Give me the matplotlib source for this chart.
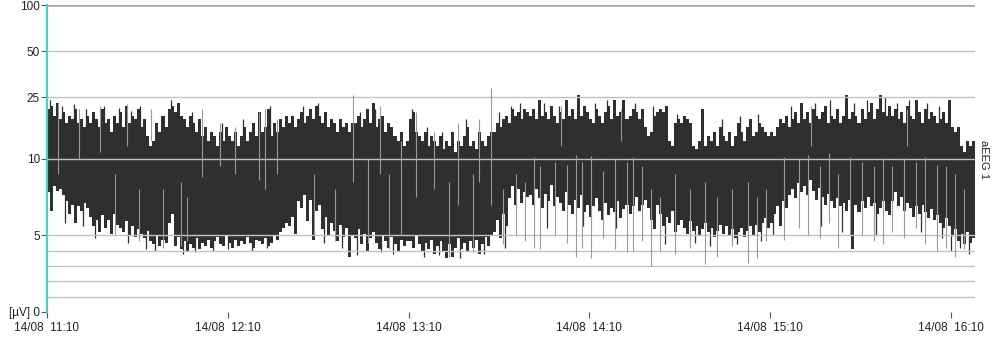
import numpy as np
import matplotlib
matplotlib.use('Agg')
import matplotlib.pyplot as plt

plt.rcParams['font.family'] = ['Liberation Sans', 'DejaVu Sans']

# aEEG envelope, one value per minute from 14/08 11:10 (µV)
upper = [
    21, 22, 19, 23, 18, 20, 17, 19, 18, 21, 17, 18, 16, 19, 17, 20, 18, 16, 21, 17,
    18, 15, 19, 17, 20, 16, 22, 17, 19, 18, 21, 16, 18, 14, 12, 13, 17, 15, 19, 16,
    21, 22, 20, 23, 19, 18, 16, 19, 17, 15, 18, 14, 16, 13, 15, 14, 12, 15, 13, 16,
    14, 13, 15, 12, 14, 16, 13, 15, 17, 14, 20, 15, 16, 21, 14, 17, 15, 18, 16, 19,
    17, 19, 16, 18, 20, 17, 19, 21, 18, 22, 19, 17, 20, 16, 18, 17, 15, 18, 16, 17,
    15, 17, 17, 19, 16, 18, 21, 17, 23, 16, 18, 19, 15, 17, 16, 14, 13, 15, 12, 13,
    18, 20, 15, 14, 13, 15, 12, 14, 13, 12, 14, 11.5, 13, 12, 15, 11, 13, 12, 14, 16,
    12, 13, 11.5, 15, 13, 12, 14, 15, 15, 17, 16, 18, 19, 17, 21, 19, 20, 18, 21, 20,
    19, 21, 18, 24, 19, 20, 18, 22, 19, 17, 20, 18, 24, 19, 21, 18, 26, 19, 22, 20,
    18, 17, 21, 19, 17, 20, 22, 18, 24, 19, 20, 24, 18, 19, 21, 20, 18, 21, 16, 14,
    15, 19, 20, 21, 20, 22, 13, 12, 17, 18, 17, 19, 18, 17, 12, 11.5, 13, 21, 12, 14,
    13, 15, 12, 16, 14, 13, 15, 12, 14, 17, 15, 13, 16, 18, 14, 15, 17, 16, 15, 14,
    15, 14, 16, 18, 17, 19, 16, 18, 20, 17, 23, 18, 20, 17, 21, 19, 18, 20, 22, 17,
    19, 18, 21, 17, 19, 26, 18, 20, 19, 17, 21, 18, 20, 23, 18, 21, 26, 20, 19, 22,
    19, 21, 18, 20, 17, 22, 19, 18, 24, 20, 17, 21, 18, 20, 19, 17, 18, 20, 17, 24,
    16, 15, 16, 12, 11, 13, 12, 13,
]
lower = [
    7.8, 6.6, 8.2, 7.9, 8.0, 7.6, 7.2, 6.4, 7.0, 5.8, 6.9, 6.6, 7.1, 6.8, 6.2, 5.6, 6.0, 5.2, 6.3, 5.5,
    6.0, 5.1, 6.4, 5.7, 5.5, 5.2, 5.9, 5.0, 5.6, 4.9, 5.4, 5.1, 4.8, 5.3, 4.6, 4.4, 5.0, 4.3, 4.7, 4.5,
    5.8, 6.4, 4.3, 4.9, 4.1, 4.6, 4.0, 4.4, 4.2, 4.8, 4.1, 4.5, 4.3, 4.7, 4.2, 4.6, 4.9, 4.4, 4.3, 5.0,
    4.5, 4.2, 4.7, 4.3, 4.6, 4.4, 4.9, 4.5, 4.2, 4.7, 4.6, 4.4, 4.8, 4.3, 4.5, 5.0, 4.7, 5.2, 5.5, 5.8,
    5.6, 6.2, 5.1, 7.2, 6.8, 7.6, 5.9, 7.3, 4.7, 6.6, 7.0, 5.4, 6.2, 5.0, 5.8, 5.3, 4.6, 5.7, 4.9, 5.5,
    3.6, 5.0, 4.8, 5.4, 4.4, 5.1, 3.9, 4.8, 5.2, 4.5, 4.1, 5.0, 4.6, 4.2, 4.9, 4.4, 4.0, 4.7, 4.3, 4.6,
    4.6, 4.2, 5.0, 4.4, 3.9, 4.5, 4.1, 4.7, 3.8, 4.3, 4.6, 4.0, 3.5, 4.4, 3.6, 4.2, 4.8, 4.1, 4.5, 3.9,
    4.6, 4.2, 4.7, 3.8, 4.4, 4.9, 4.3, 5.0, 5.2, 6.0, 4.8, 6.4, 5.6, 7.4, 8.2, 7.0, 8.0, 7.1, 7.8, 7.5,
    7.6, 7.0, 8.0, 7.4, 6.8, 7.7, 7.2, 8.3, 6.9, 7.5, 7.1, 6.6, 7.8, 7.0, 6.4, 7.3, 6.8, 7.6, 6.5, 7.0,
    6.2, 6.9, 7.4, 6.6, 6.0, 7.1, 6.3, 6.8, 6.5, 7.2, 6.1, 6.7, 7.0, 6.4, 6.9, 7.5, 6.6, 7.0, 7.3, 6.8,
    6.0, 5.4, 7.0, 6.4, 5.6, 6.2, 5.8, 6.6, 5.2, 5.7, 6.0, 5.5, 5.1, 5.9, 5.3, 5.6, 5.0, 5.4, 5.8, 5.2,
    5.5, 4.9, 5.3, 5.7, 5.1, 5.6, 5.0, 5.4, 4.8, 5.2, 5.5, 4.9, 5.3, 5.6, 5.0, 5.7, 5.2, 5.8, 6.1, 5.5,
    5.8, 6.4, 6.9, 5.6, 7.2, 6.8, 7.6, 8.0, 7.4, 8.4, 7.8, 8.2, 7.6, 8.6, 7.9, 7.3, 8.1, 7.5, 7.0, 7.7,
    7.2, 6.8, 7.4, 6.9, 7.1, 6.6, 7.3, 4.1, 7.0, 6.5, 7.2, 6.8, 7.5, 6.9, 7.1, 6.4, 6.8, 7.2, 6.6, 6.3,
    7.2, 7.8, 6.9, 7.5, 6.6, 7.1, 6.8, 6.2, 6.9, 6.4, 7.0, 6.5, 6.1, 6.7, 6.0, 6.3, 5.8, 5.5, 6.1, 5.6,
    5.0, 5.4, 4.6, 5.1, 4.4, 5.2, 4.5, 4.8,
]

# lighter single traces (minute, low, high)
spike_min = [3, 10, 17, 22, 26, 30, 34, 38,
             44, 46, 51, 57, 62, 70, 72, 76,
             88, 95, 101, 106, 110, 113, 117,
             122, 128, 133, 136, 141, 143, 147, 151, 155, 158,
             161, 163, 168, 170, 172, 175, 177, 180, 184, 188, 190, 192, 194, 197,
             200, 203, 208, 213, 218, 222, 227, 232, 235, 238,
             244, 249, 252, 253, 256, 259, 262, 266, 270, 274, 277,
             280, 284, 285, 288, 291, 295, 298, 301, 304]
spike_lo = [9, 10, 11, 5.0, 12, 4.6, 13, 4.2,
            4.3, 4.6, 8.8, 9.5, 9.0, 8.6, 8.0, 9.0,
            5.0, 4.6, 8.5, 4.5, 9.0, 4.1, 5.0,
            7.5, 8.0, 3.6, 7.0, 3.9, 8.5, 7.0, 4.4, 5.0, 4.6,
            4.2, 4.1, 5.0, 12, 4.5, 3.6, 4.2, 3.5, 4.8, 4.1, 13, 3.9, 4.0, 4.6,
            3.0, 4.0, 3.8, 4.2, 3.1, 3.6, 4.3, 3.2, 3.5, 4.6,
            4.7, 5.5, 5.0, 12, 4.8, 5.8, 4.2, 5.0, 5.0, 4.6, 4.4,
            5.2, 4.8, 12, 5.5, 4.4, 4.0, 4.2, 3.6, 4.1]
spike_hi = [23, 21, 22, 9, 22.5, 8, 21, 8,
            8.5, 7.5, 21, 17, 16, 20, 21, 18,
            9, 8, 26, 10, 22, 9, 13,
            20, 15, 8.5, 17, 9, 18, 29, 8, 9, 8.5,
            10.2, 9.5, 9.8, 22, 9.6, 10.5, 9.8, 10.4, 9.2, 10.0, 21, 9.8, 10.2, 9.5,
            8, 7.5, 9, 8, 8.5, 7.5, 8, 8.5, 7.5, 8,
            10.3, 10.0, 10.5, 22, 9.5, 10.8, 9.0, 10.2, 9.8, 9.5, 10.0,
            9.5, 10.1, 21, 9.8, 10.2, 9.6, 9.5, 9.0, 8.0]

# thin dark traces between the minute columns (minute, low, high)
dark_min = [1, 5, 9, 13, 19, 24, 28, 31, 6, 12, 16, 27, 33, 36,
            41, 48, 58, 65, 74, 45, 49, 55, 60, 68, 73,
            85, 90, 104, 109, 92, 98, 103, 111, 115,
            121, 126, 131, 139, 150, 154, 157, 125, 130, 137, 145, 152,
            165, 170, 182, 186, 195, 166, 178, 189,
            201, 209, 224, 230, 236, 205, 215, 220, 229, 237,
            247, 255, 260, 268, 272, 278, 241, 257, 264, 275,
            282, 286, 292, 296, 290, 297, 300, 303, 306]
dark_lo = [8, 8, 8, 8, 8, 8, 7, 7, 5.8, 5.6, 4.8, 4.5, 4.1, 4.0,
           10, 10, 10, 10, 10, 3.8, 3.9, 4.0, 4.1, 4.0, 4.2,
           10, 10, 10, 10, 4.5, 4.2, 3.7, 3.9, 3.8,
           10, 10, 10, 10, 10, 10, 10, 3.6, 3.7, 3.5, 3.8, 4.2,
           10, 10, 10, 10, 10, 5.5, 5.6, 5.5,
           10, 10, 10, 10, 10, 4.4, 4.5, 4.3, 4.4, 4.6,
           10, 10, 10, 10, 10, 10, 5.0, 5.6, 5.2, 5.0,
           10, 10, 10, 10, 5.2, 4.8, 4.0, 4.2, 3.8]
dark_hi = [24, 22, 22.5, 21, 22, 21.5, 20.5, 22, 10, 10, 10, 10, 10, 10,
           24, 20, 17, 18, 22, 8, 8, 8, 8, 8, 8,
           22, 23, 20, 21, 8, 8, 8, 8, 8,
           21, 16, 15, 18, 20, 22, 23, 8, 8, 8, 8, 8,
           23, 22, 23, 24, 23, 8, 8, 8,
           22, 19.5, 18, 19, 19.5, 8, 8, 8, 8, 8,
           22, 23, 24, 23, 24, 25, 9, 9, 9, 9,
           23, 24, 23, 22, 8, 8, 8, 7, 7]

xtick_min = [0, 60, 120, 180, 240, 300]
xtick_labels = ['14/08  11:10', '14/08  12:10', '14/08  13:10',
                '14/08  14:10', '14/08  15:10', '14/08  16:10']
ytick_vals = [0, 5, 10, 25, 50, 100]
ytick_labels = ['[µV] 0', '5', '10', '25', '50', '100']
grid_vals = [1, 2, 3, 4, 5, 10, 25, 50]

assert len(upper) == len(lower) == 308


def fwd(v):
    # linear 0-10, log above 10
    v = np.asarray(v, dtype=float)
    return np.where(v <= 10, v / 10, 1 + np.log10(np.maximum(v, 10) / 10))


def inv(u):
    u = np.asarray(u, dtype=float)
    return np.where(u <= 1, u * 10, 10 * 10 ** (np.maximum(u, 1) - 1))


fig = plt.figure(figsize=(10, 3.38), dpi=100)
ax = fig.add_axes([0.047, 0.077, 0.928, 0.908])
ax.set_yscale('function', functions=(fwd, inv))
ax.set_ylim(0, 100)
ax.set_xlim(0, 308)

up = np.array(upper, dtype=float)
lo = np.array(lower, dtype=float)
t = np.arange(len(up)) + 0.5
ax.bar(t, up - lo, bottom=lo, width=1.0, color='#2f2f2f', linewidth=0,
       antialiased=False, zorder=2)
ax.vlines(dark_min, dark_lo, dark_hi, color='#2f2f2f', lw=0.9, zorder=2.2)

for g in grid_vals:
    ax.axhline(g, color='#c2c2c2', lw=1.0, zorder=2.5)
ax.axhline(100, color='#a6a6a6', lw=1.8, zorder=2.5)

ax.vlines(np.array(spike_min) + 0.5, spike_lo, spike_hi, color='#9a9a9a',
          lw=0.8, zorder=3)

for s in ['top', 'right', 'bottom']:
    ax.spines[s].set_visible(False)
ax.spines['left'].set_color('#4ccccc')
ax.spines['left'].set_linewidth(1.6)

ax.set_yticks(ytick_vals)
ax.set_yticklabels(ytick_labels)
ax.set_xticks(xtick_min)
ax.set_xticklabels(xtick_labels)
ax.minorticks_off()
ax.tick_params(axis='y', length=4, width=0.8, color='#555555', labelsize=8.5,
               labelcolor='#222222', pad=1)
ax.tick_params(axis='x', length=4, width=0.8, color='#555555', labelsize=8.5,
               labelcolor='#222222', pad=3)

fig.text(0.984, 1 - 160 / 338, 'aEEG 1', rotation=270, va='center',
         ha='center', fontsize=8, color='#222222')

fig.savefig('out.png', dpi=100)
